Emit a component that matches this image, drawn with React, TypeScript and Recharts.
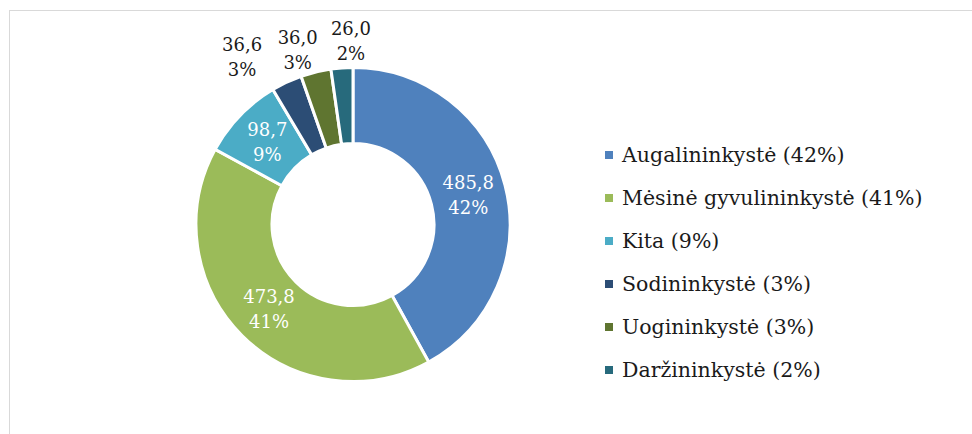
import { PieChart, Pie, Cell, Legend } from "recharts"

const categories = [
  "Augalininkystė",
  "Mėsinė gyvulininkystė",
  "Kita",
  "Sodininkystė",
  "Uogininkystė",
  "Daržininkystė",
]
const values = [485.8, 473.8, 98.7, 36.6, 36.0, 26.0]
const colors = ["#4F81BD", "#9BBB59", "#4BACC6", "#2C4D75", "#5F7530", "#276A7C"]

const total = values.reduce((s, v) => s + v, 0)
const data = categories.map((name, i) => ({ name, value: values[i] }))

const pct = (v: number) => Math.round((v / total) * 100)

// label placement: radius and small angle nudge (Excel pushes the tiny slices apart)
const labelRadius = [119, 119, 119, 201, 184, 184.5]
const labelShift = [0, 0, 0, 8.5, 3.8, -3.4]
const RAD = Math.PI / 180
const FONT = "'DejaVu Serif', serif"

function renderLabel(props: any) {
  const { cx, cy, midAngle, index, value } = props
  const a = (midAngle + labelShift[index]) * RAD
  const r = labelRadius[index]
  const x = cx + r * Math.cos(-a)
  const y = cy + r * Math.sin(-a)
  const inside = index < 3
  return (
    <text
      x={x}
      y={y}
      textAnchor="middle"
      fontFamily={FONT}
      fontSize={18}
      fill={inside ? "#FFFFFF" : "#1A1A1A"}
    >
      <tspan x={x} dy={-5.5}>{value.toFixed(1).replace(".", ",")}</tspan>
      <tspan x={x} dy={25}>{pct(value)}%</tspan>
    </text>
  )
}

function renderLegend() {
  return (
    <div style={{ fontFamily: FONT, fontSize: 20.5, color: "#1A1A1A" }}>
      {data.map((d, i) => (
        <div key={d.name} style={{ display: "flex", alignItems: "center", height: 43 }}>
          <span
            style={{ width: 8, height: 8, background: colors[i], marginRight: 9, display: "inline-block" }}
          />
          <span>{`${d.name} (${pct(d.value)}%)`}</span>
        </div>
      ))}
    </div>
  )
}

export default function App() {
  return (
    <div style={{ position: "absolute", left: 0, top: 0, width: 972, height: 434, background: "#fff" }}>
      <div
        style={{
          position: "absolute",
          left: 9,
          top: 10,
          width: 980,
          height: 440,
          border: "1px solid #D9D9D9",
        }}
      />
      <PieChart
        width={972}
        height={434}
        margin={{ top: 0, right: 0, bottom: 0, left: 0 }}
        style={{ position: "absolute", left: 0, top: 0 }}
      >
        <Pie
          data={data}
          dataKey="value"
          nameKey="name"
          cx={353}
          cy={224.5}
          innerRadius={81}
          outerRadius={157}
          startAngle={90}
          endAngle={-270}
          stroke="#FFFFFF"
          strokeWidth={3}
          label={renderLabel}
          labelLine={false}
          isAnimationActive={false}
        >
          {data.map((d, i) => (
            <Cell key={d.name} fill={colors[i]} />
          ))}
        </Pie>
        <Legend
          content={renderLegend}
          wrapperStyle={{ left: 605, top: 133, width: 360 }}
        />
      </PieChart>
    </div>
  )
}
